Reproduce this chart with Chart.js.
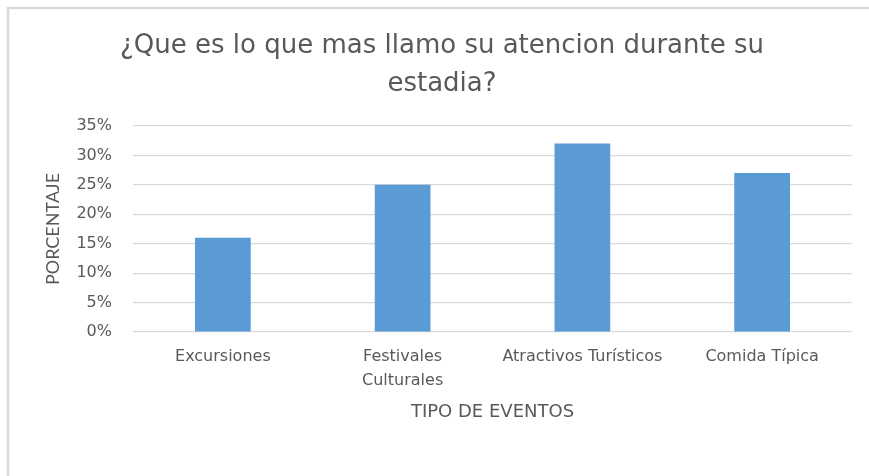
<!DOCTYPE html>
<html>
<head>
<meta charset="utf-8">
<script src="https://cdn.jsdelivr.net/npm/chart.js@4"></script>
<style>
  html, body { margin: 0; padding: 0; background: #ffffff; }
  #wrap { width: 869px; height: 476px; position: relative; }
</style>
</head>
<body>
<div id="wrap"><canvas id="chart" width="869" height="476"></canvas></div>
<script>
// datos
const categories = ["Excursiones", ["Festivales", "Culturales"], "Atractivos Turísticos", "Comida Típica"];
const percentValues = [16, 25, 32, 27];
const tickValues = [0, 5, 10, 15, 20, 25, 30, 35];

const titleLines = ["¿Que es lo que mas llamo su atencion durante su", "estadia?"];
const xAxisTitle = "TIPO DE EVENTOS";
const yAxisTitle = "PORCENTAJE";

const textColor = "#595959";
const gridColor = "#d9d9d9";
const barColor = "#5b9bd5";
// texto horizontal ancho (como en la imagen), texto vertical mas estrecho
const wideFont = "'DejaVu Sans', sans-serif";
const narrowFont = "Lato, 'Open Sans', sans-serif";

// marco gris (solo arriba e izquierda visibles)
const frame = {
    id: "frame",
    beforeDraw(chart) {
        const ctx = chart.ctx;
        ctx.save();
        ctx.strokeStyle = gridColor;
        ctx.lineWidth = 2.5;
        ctx.beginPath();
        ctx.moveTo(8, chart.height);
        ctx.lineTo(8, 8);
        ctx.lineTo(chart.width, 8);
        ctx.stroke();
        ctx.restore();
    }
};

new Chart(document.getElementById("chart"), {
    type: "bar",
    data: {
        labels: categories,
        datasets: [
            {
                data: percentValues,
                backgroundColor: barColor,
                borderWidth: 0,
                barPercentage: 0.62,
                categoryPercentage: 0.5
            }
        ]
    },
    options: {
        responsive: false,
        animation: false,
        layout: {
            padding: { left: 32, right: 17, top: 0, bottom: 0 }
        },
        plugins: {
            legend: { display: false },
            tooltip: { enabled: false },
            title: {
                display: true,
                text: titleLines,
                color: textColor,
                font: { family: wideFont, size: 26, weight: "normal", lineHeight: 1.48 },
                padding: { top: 27, bottom: 22 }
            }
        },
        scales: {
            x: {
                grid: { display: false, drawTicks: false },
                border: { display: false },
                ticks: {
                    color: textColor,
                    font: { family: wideFont, size: 16, lineHeight: 1.5 },
                    padding: 13,
                    maxRotation: 0,
                    autoSkip: false
                },
                title: {
                    display: true,
                    text: xAxisTitle,
                    color: textColor,
                    font: { family: wideFont, size: 18, lineHeight: 1.2 },
                    padding: { top: 0, bottom: 53 }
                },
                afterFit(scale) {
                    scale.height = 144;
                }
            },
            y: {
                min: 0,
                max: 35,
                grid: { color: gridColor, lineWidth: 1.2, drawTicks: false },
                border: { display: false },
                afterBuildTicks(scale) {
                    scale.ticks = tickValues.map(v => ({ value: v }));
                },
                ticks: {
                    color: textColor,
                    font: { family: wideFont, size: 16 },
                    padding: 21,
                    callback: v => v + "%"
                },
                title: {
                    display: true,
                    text: yAxisTitle,
                    color: textColor,
                    font: { family: narrowFont, size: 18, lineHeight: 1.2 },
                    padding: { top: 10, bottom: 0 }
                },
                afterFit(scale) {
                    scale.width = 101;
                }
            }
        }
    },
    plugins: [frame]
});
</script>
</body>
</html>
